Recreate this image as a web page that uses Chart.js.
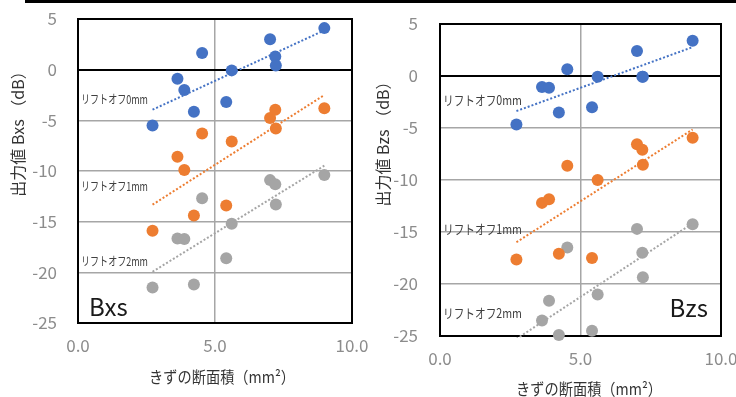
<!DOCTYPE html>
<html>
<head>
<meta charset="utf-8">
<script src="https://cdn.jsdelivr.net/npm/chart.js@4"></script>
<style>
  body { margin: 0; background: #fff; }
  #wrap { position: relative; width: 736px; height: 397px; overflow: hidden; }
  #topline { position: absolute; left: 25px; top: 0; width: 711px; height: 3px; background: #000; }
  canvas { position: absolute; top: 0; }
  #bxs { left: 0; }
  #bzs { left: 370px; }
</style>
</head>
<body>
<div id="wrap">
  <canvas id="bxs" width="370" height="397"></canvas>
  <canvas id="bzs" width="366" height="397"></canvas>
  <div id="topline"></div>
</div>
<script>
// きずの断面積 (mm2)
const area = [2.72, 3.63, 3.88, 4.23, 4.53, 5.41, 5.61, 7.01, 7.2, 7.22, 8.99];

// Bxs 出力値 (dB)
const bxs0 = [-5.5, -0.9, -2.0, -4.15, 1.65, -3.2, -0.07, 3.0, 1.3, 0.42, 4.1];
const bxs1 = [-15.9, -8.6, -9.9, -14.4, -6.3, -13.4, -7.1, -4.77, -3.95, -5.8, -3.8];
const bxs2 = [-21.5, -16.65, -16.7, -21.2, -12.7, -18.6, -15.2, -10.9, -11.3, -13.3, -10.4];

// Bzs 出力値 (dB)
const bzs0 = [-4.67, -1.06, -1.13, -3.5, 0.64, -3.0, -0.07, 2.4, -0.07, -0.07, 3.38];
const bzs1 = [-17.65, -12.2, -11.86, -17.1, -8.64, -17.5, -9.99, -6.57, -7.09, -8.54, -5.93];
const bzs2 = [-26.7, -23.5, -21.6, -24.9, -16.5, -24.5, -21.0, -14.7, -17.0, -19.35, -14.26];

const liftLabels = ["リフトオフ0mm", "リフトオフ1mm", "リフトオフ2mm"];
const xTicks = [0, 5, 10];
const yTicks = [5, 0, -5, -10, -15, -20, -25];

const colors = ["#4472C4", "#ED7D31", "#A5A5A5"];
const FONT = "'Noto Sans CJK JP', 'Noto Sans', sans-serif";

function points(ys) {
  return area.map((x, i) => ({ x: x, y: ys[i] }));
}

// linear trendline over the data range (like Excel)
function trend(ys) {
  const n = area.length;
  const mx = area.reduce((a, b) => a + b, 0) / n;
  const my = ys.reduce((a, b) => a + b, 0) / n;
  let sxy = 0, sxx = 0;
  area.forEach((x, i) => { sxy += (x - mx) * (ys[i] - my); sxx += (x - mx) * (x - mx); });
  const k = sxy / sxx;
  const x0 = Math.min(...area), x1 = Math.max(...area);
  return [{ x: x0, y: my + k * (x0 - mx) }, { x: x1, y: my + k * (x1 - mx) }];
}

// frame + text inside the plot
const framePlugin = {
  id: "frame",
  beforeDatasetsDraw(chart) {
    const { ctx, chartArea: a } = chart;
    ctx.save();
    ctx.strokeStyle = "#000";
    ctx.lineWidth = 2;
    ctx.strokeRect(a.left, a.top, a.right - a.left, a.bottom - a.top);
    ctx.restore();
  },
  afterDraw(chart, args, o) {
    const { ctx, chartArea: a, scales } = chart;
    ctx.save();
    ctx.textBaseline = "middle";

    // lift-off labels
    ctx.fillStyle = "#404040";
    ctx.font = o.labelSize + "px " + FONT;
    ctx.textAlign = "left";
    o.labelY.forEach((v, i) => {
      ctx.fillText(liftLabels[i], a.left + 3, scales.y.getPixelForValue(v), o.labelWidth);
    });

    // panel name
    ctx.fillStyle = "#1a1a1a";
    ctx.font = "24px " + FONT;
    ctx.textAlign = o.nameAlign;
    const nx = o.nameAlign === "left" ? a.left + 11 : a.right - 13;
    ctx.fillText(o.name, nx, a.bottom - o.nameOffset);

    // x title
    ctx.fillStyle = "#333";
    ctx.font = "16px " + FONT;
    ctx.textAlign = "center";
    ctx.fillText("きずの断面積（mm²）", o.xTitleX, o.xTitleY, 146);

    // y title
    ctx.translate(o.yTitleX, o.yTitleY);
    ctx.rotate(-Math.PI / 2);
    ctx.fillText("出力値 " + o.name + " （dB）", 0, 0, 136);
    ctx.restore();
  }
};

function makeChart(id, series, lay, frame) {
  const datasets = [];
  series.forEach((ys, i) => {
    datasets.push({
      label: liftLabels[i],
      data: points(ys),
      backgroundColor: colors[i],
      borderColor: colors[i],
      pointRadius: 6,
      pointHoverRadius: 6,
      pointBorderWidth: 0,
      showLine: false,
      clip: 8,
      order: 2
    });
  });
  series.forEach((ys, i) => {
    datasets.push({
      label: liftLabels[i] + " trend",
      data: trend(ys),
      borderColor: colors[i],
      borderWidth: 2,
      borderDash: [2, 2],
      pointRadius: 0,
      showLine: true,
      fill: false,
      clip: 2,
      order: 1
    });
  });

  const options = {
    responsive: false,
    animation: false,
    layout: {
      autoPadding: false,
      padding: { top: lay.top, right: lay.right, left: 0, bottom: 0 }
    },
    scales: {
      x: {
        type: "linear",
        min: 0,
        max: 10,
        afterBuildTicks: (s) => { s.ticks = xTicks.map(v => ({ value: v })); },
        afterFit: (s) => {
          s.height = lay.xHeight;
          s.paddingLeft = 0;
          s.paddingRight = 0;
        },
        ticks: {
          color: "#8c8c8c",
          padding: 12,
          font: { size: 17, family: FONT },
          callback: (v) => Number(v).toFixed(1)
        },
        grid: { color: "#a6a6a6", lineWidth: 1.5, drawTicks: false },
        border: { display: false }
      },
      y: {
        type: "linear",
        min: -25,
        max: 5,
        afterBuildTicks: (s) => { s.ticks = yTicks.map(v => ({ value: v })); },
        afterFit: (s) => {
          s.width = lay.yWidth;
          s.paddingTop = 0;
          s.paddingBottom = 0;
        },
        ticks: {
          color: "#8c8c8c",
          padding: lay.yPad,
          font: { size: 17, family: FONT }
        },
        grid: {
          color: (c) => c.tick && c.tick.value === 0 ? "#000" : "#a6a6a6",
          lineWidth: (c) => c.tick && c.tick.value === 0 ? 2 : 1.5,
          drawTicks: false
        },
        border: { display: false }
      }
    },
    plugins: {
      legend: { display: false },
      tooltip: { enabled: false },
      frame: frame
    }
  };

  const ctx = document.getElementById(id).getContext("2d");
  return new Chart(ctx, {
    type: "scatter",
    data: { datasets: datasets },
    options: options,
    plugins: [framePlugin]
  });
}

// Bxs (left)
makeChart("bxs", [bxs0, bxs1, bxs2],
  { top: 19, right: 18, xHeight: 74, yWidth: 78, yPad: 21 },
  {
    name: "Bxs", nameAlign: "left", nameOffset: 16,
    labelY: [-2.97, -11.5, -18.9], labelSize: 12, labelWidth: 67,
    xTitleX: 222, xTitleY: 377, yTitleX: 18, yTitleY: 130
  });

// Bzs (right)
makeChart("bzs", [bzs0, bzs1, bzs2],
  { top: 24, right: 15, xHeight: 61, yWidth: 70, yPad: 22 },
  {
    name: "Bzs", nameAlign: "right", nameOffset: 28,
    labelY: [-2.35, -14.75, -22.8], labelSize: 13, labelWidth: 79,
    xTitleX: 219, xTitleY: 389, yTitleX: 13, yTitleY: 140
  });
</script>
</body>
</html>
